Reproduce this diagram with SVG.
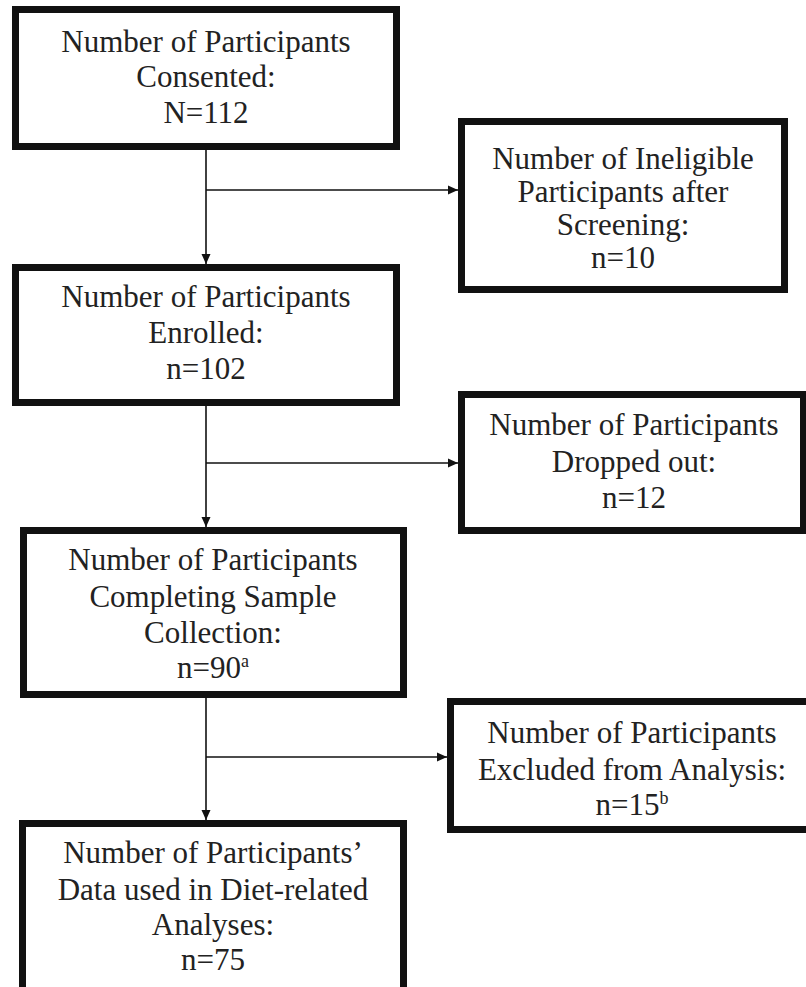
<svg xmlns="http://www.w3.org/2000/svg" width="806" height="987" viewBox="0 0 806 987">
<style>
.box{fill:#fff;stroke:#111;stroke-width:7}
.t{font-family:"Liberation Serif","Times New Roman",serif;font-size:31px;fill:#222;text-anchor:middle}
.sup{font-size:18px}
.c{stroke:#111;stroke-width:1.6;fill:none}
</style>
<defs>
<marker id="ah" viewBox="0 0 10 10" refX="10" refY="5" markerWidth="10" markerHeight="10" markerUnits="userSpaceOnUse" orient="auto">
<path d="M0,0.5 L10,5 L0,9.5 Z" fill="#111"/>
</marker>
</defs>
<rect width="806" height="987" fill="#fff"/>
<g id="connectors">
<line class="c" x1="206" y1="150" x2="206" y2="264" marker-end="url(#ah)"/>
<line class="c" x1="206" y1="190" x2="458" y2="190" marker-end="url(#ah)"/>
<line class="c" x1="206" y1="406" x2="206" y2="527" marker-end="url(#ah)"/>
<line class="c" x1="206" y1="463" x2="458" y2="463" marker-end="url(#ah)"/>
<line class="c" x1="206" y1="698" x2="206" y2="820" marker-end="url(#ah)"/>
<line class="c" x1="206" y1="757" x2="447" y2="757" marker-end="url(#ah)"/>
</g>
<g id="consented">
<rect class="box" x="15.5" y="9.5" width="381" height="137"/>
<text class="t" x="206" y="52">Number of Participants</text>
<text class="t" x="206" y="87">Consented:</text>
<text class="t" x="206" y="123">N=112</text>
</g>
<g id="ineligible">
<rect class="box" x="461.5" y="121.5" width="323" height="168"/>
<text class="t" x="623" y="169">Number of Ineligible</text>
<text class="t" x="623" y="202">Participants after</text>
<text class="t" x="623" y="235">Screening:</text>
<text class="t" x="623" y="268">n=10</text>
</g>
<g id="enrolled">
<rect class="box" x="15.5" y="267.5" width="381" height="135"/>
<text class="t" x="206" y="307">Number of Participants</text>
<text class="t" x="206" y="343">Enrolled:</text>
<text class="t" x="206" y="379">n=102</text>
</g>
<g id="dropped">
<rect class="box" x="461.5" y="394.5" width="342" height="136"/>
<text class="t" x="634" y="435">Number of Participants</text>
<text class="t" x="634" y="472">Dropped out:</text>
<text class="t" x="634" y="508">n=12</text>
</g>
<g id="completing">
<rect class="box" x="23.5" y="530.5" width="380" height="164"/>
<text class="t" x="213" y="570">Number of Participants</text>
<text class="t" x="213" y="607">Completing Sample</text>
<text class="t" x="213" y="643">Collection:</text>
<text class="t" x="213" y="678">n=90<tspan class="sup" dy="-11">a</tspan></text>
</g>
<g id="excluded">
<rect class="box" x="450.5" y="701.5" width="370" height="128"/>
<text class="t" x="632" y="743">Number of Participants</text>
<text class="t" x="632" y="780">Excluded from Analysis:</text>
<text class="t" x="632" y="815">n=15<tspan class="sup" dy="-11">b</tspan></text>
</g>
<g id="diet">
<rect class="box" x="22.5" y="823.5" width="381" height="200"/>
<text class="t" x="213" y="863">Number of Participants’</text>
<text class="t" x="213" y="900">Data used in Diet-related</text>
<text class="t" x="213" y="935">Analyses:</text>
<text class="t" x="213" y="970">n=75</text>
</g>
</svg>
